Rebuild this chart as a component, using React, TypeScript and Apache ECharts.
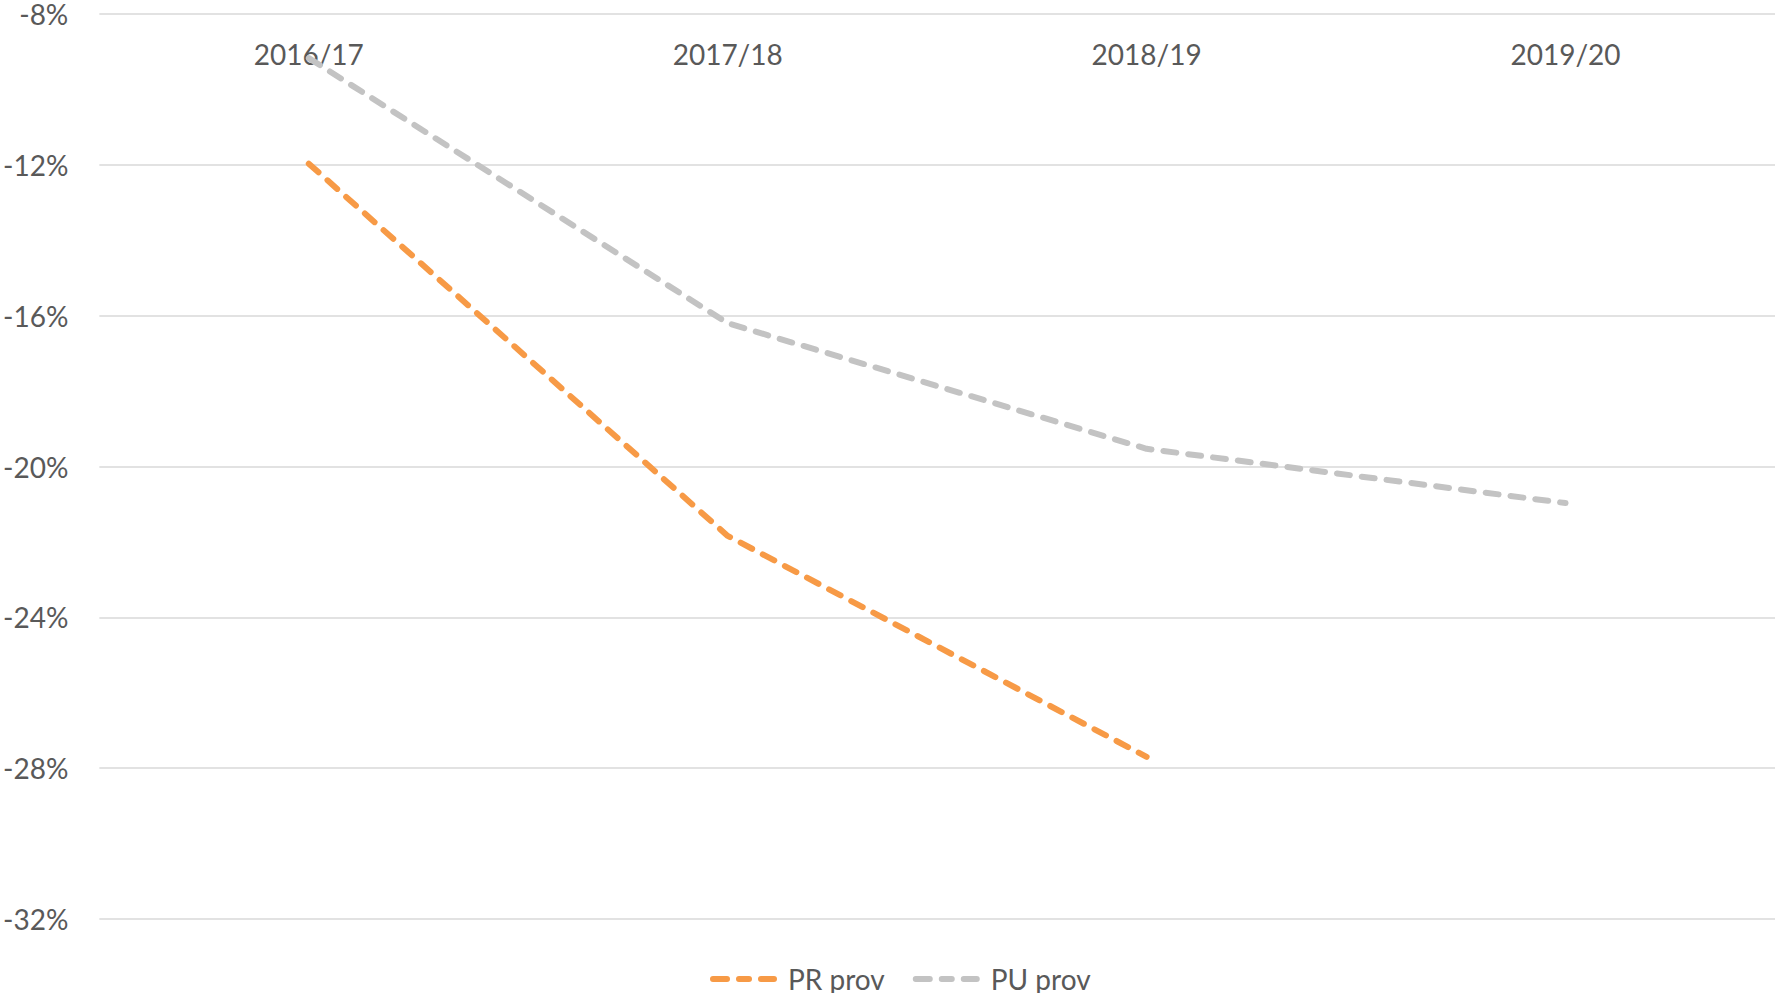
import React, { useEffect, useRef } from "react";
import * as echarts from "echarts";

const categories = ["2016/17", "2017/18", "2018/19", "2019/20"];
const prProv = [-11.97, -21.84, -27.7, null];
const puProv = [-9.17, -16.2, -19.53, -20.97];
const yMin = -32;
const yMax = -8;
const yStep = 4;

const dashIcon =
  "path://M3,0 H17 A3,3 0 0 1 17,6 H3 A3,3 0 0 1 3,0 Z M29,0 H39 A3,3 0 0 1 39,6 H29 A3,3 0 0 1 29,0 Z M51,0 H64 A3,3 0 0 1 64,6 H51 A3,3 0 0 1 51,0 Z";

export default function App() {
  const ref = useRef<HTMLDivElement>(null);
  useEffect(() => {
    if (!ref.current) return;
    const chart = echarts.init(ref.current, undefined, { renderer: "svg" });
    const font = "Lato, 'Open Sans', sans-serif";
    const dash = [13, 12];
    chart.setOption({
      animation: false,
      backgroundColor: "#ffffff",
      grid: { left: 98, right: 0, top: 13, bottom: 74, containLabel: false },
      xAxis: {
        type: "category",
        data: categories,
        position: "top",
        boundaryGap: true,
        axisLine: { show: false },
        axisTick: { show: false },
        axisLabel: {
          inside: true,
          margin: 26,
          color: "#595959",
          fontSize: 28,
          fontFamily: font,
        },
        splitLine: { show: false },
      },
      yAxis: {
        type: "value",
        min: yMin,
        max: yMax,
        interval: yStep,
        axisLine: { show: false },
        axisTick: { show: false },
        axisLabel: {
          margin: 31,
          color: "#595959",
          fontSize: 28,
          fontFamily: font,
          formatter: (v: number) => `${v}%`,
        },
        splitLine: { lineStyle: { color: "#D9D9D9", width: 1.5 } },
      },
      legend: {
        left: 705,
        top: 960,
        itemWidth: 67,
        itemHeight: 6,
        itemGap: 28,
        textStyle: {
          color: "#595959",
          fontSize: 28,
          fontFamily: font,
          padding: [0, 0, 0, 6],
        },
        data: [
          { name: "PR prov", icon: dashIcon },
          { name: "PU prov", icon: dashIcon },
        ],
      },
      series: [
        {
          name: "PR prov",
          type: "line",
          data: prProv,
          symbol: "none",
          lineStyle: { color: "#F79A46", width: 6, type: dash, cap: "round" },
          itemStyle: { color: "#F79A46" },
        },
        {
          name: "PU prov",
          type: "line",
          data: puProv,
          symbol: "none",
          lineStyle: { color: "#C3C3C3", width: 6, type: dash, cap: "round" },
          itemStyle: { color: "#C3C3C3" },
        },
      ],
    });
    return () => chart.dispose();
  }, []);
  return (
    <div
      ref={ref}
      style={{ position: "fixed", left: 0, top: 0, width: 1775, height: 993 }}
    />
  );
}
